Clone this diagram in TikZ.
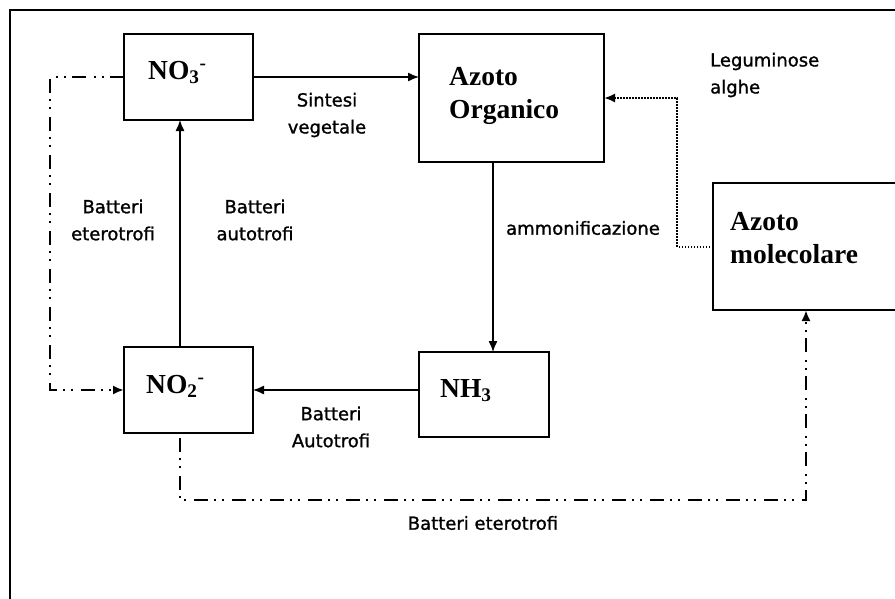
\documentclass[tikz,border=0pt]{standalone}
\usepackage{fontspec}
\setmainfont{Liberation Serif}
\newfontfamily\labelfont[FakeBold=1.2]{DejaVu Sans}
\usetikzlibrary{arrows.meta,calc}
\tikzset{
  box/.style={draw=black, line width=1.6pt, inner sep=0pt, outer sep=0pt, anchor=north west},
  boxtext/.style={font=\fontsize{27.5}{33}\selectfont\bfseries, anchor=base west, inner sep=0pt, align=left},
  lbl/.style={font=\labelfont\fontsize{18}{27}\selectfont, align=center, inner sep=0pt},
  arrow/.style={-{Latex[length=11pt,width=9pt]}, line width=1.3pt},
  dashdotarrow/.style={-{Latex[length=11pt,width=9pt]}, line width=2.4pt, dash pattern=on 14pt off 6pt on 2pt off 6pt on 2pt off 8pt},
  dottedarrow/.style={-{Latex[length=11pt,width=9pt]}, line width=2pt, dash pattern=on 1.5pt off 1.5pt}
}
\begin{document}
\begin{tikzpicture}[x=1pt, y=-1pt]
\useasboundingbox (0,0) rectangle (895,598);
\draw[line width=1.6pt] (10,10) rectangle (910,610);
% boxes
\node[box, minimum width=129pt, minimum height=86pt] (no3) at (124,34) {};
\node[box, minimum width=185pt, minimum height=128pt] (org) at (419,34) {};
\node[box, minimum width=186pt, minimum height=127pt] (mol) at (713,183) {};
\node[box, minimum width=129pt, minimum height=86pt] (no2) at (124,347) {};
\node[box, minimum width=130pt, minimum height=85pt] (nh) at (419,352) {};
% box texts
\node[boxtext] (no3txt) at (148,79) {NO\textsubscript{3}\textsuperscript{-}};
\node[boxtext] (orgtxt) at (449,118) {Azoto\\Organico};
\node[boxtext] (moltxt) at (730,263) {Azoto\\molecolare};
\node[boxtext] (no2txt) at (146,393) {NO\textsubscript{2}\textsuperscript{-}};
\node[boxtext] (nhtxt) at (440,397) {NH\textsubscript{3}};
% connectors
\draw[arrow] (no3.east) -- (no3.east -| org.west);
\draw[arrow] ([xshift=-8.5pt]no2.north) -- ([xshift=-8.5pt]no3.south);
\draw[arrow] ([xshift=9pt]nh.north |- org.south) -- ([xshift=9pt]nh.north);
\draw[arrow] (no2.east -| nh.west) -- (no2.east);
\draw[dottedarrow] (mol.west) -- ++(-36,0) |- (org.east);
\draw[dashdotarrow] (no3.west) -- ++(-74,0) |- (no2.west);
\draw[dashdotarrow] ([xshift=-8.5pt,yshift=-5pt]no2.south) -- ++(0,62) -| (mol.south);
% labels
\node[lbl] (sintesi) at (327,115) {Sintesi\\vegetale};
\node[lbl, align=left, anchor=west] (legum) at (710,75) {Leguminose\\alghe};
\node[lbl] (eteroleft) at (113,220) {Batteri\\eterotrofi};
\node[lbl] (autoleft) at (255,220) {Batteri\\autotrofi};
\node[lbl] (ammon) at (583,228) {ammonificazione};
\node[lbl] (autobottom) at (331,427) {Batteri\\Autotrofi};
\node[lbl] (eterobottom) at (483,523) {Batteri eterotrofi};
\end{tikzpicture}
\end{document}
